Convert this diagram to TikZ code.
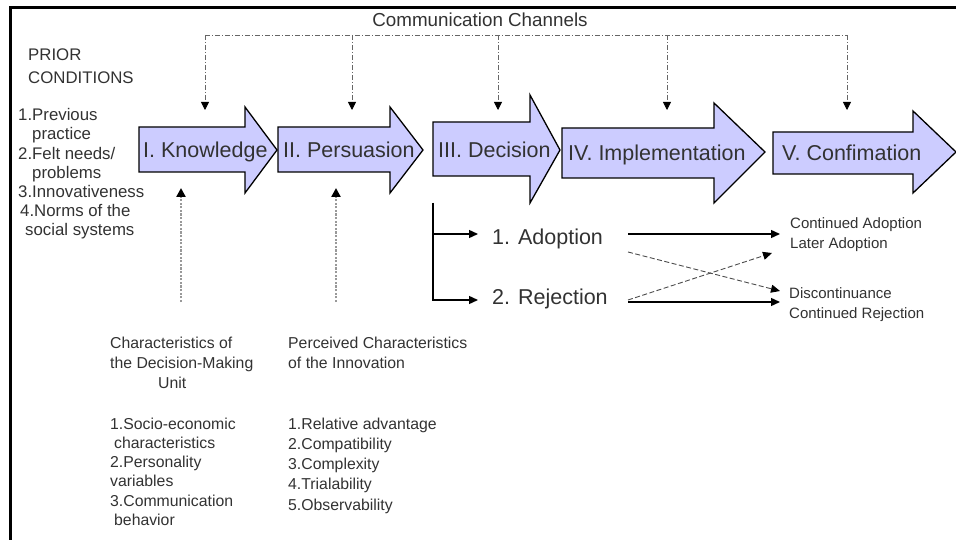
\documentclass[tikz,border=0pt]{standalone}
\usepackage{fontspec}
\setmainfont{Liberation Sans}
\usetikzlibrary{arrows.meta}

\definecolor{stagefill}{RGB}{204,204,255}
\definecolor{inkgray}{RGB}{50,50,50}

\tikzset{
  stage/.style={draw=black, line width=1.3pt, fill=stagefill, line join=miter},
  stagelabel/.style={anchor=base west, inner sep=0pt, text=inkgray, font=\fontsize{21.5}{25}\selectfont},
  sidetext/.style={anchor=base west, inner sep=0pt, align=left, text=inkgray},
  channel/.style={draw=black!60, line width=0.8pt, dash pattern=on 5pt off 2pt on 1pt off 2pt},
  channeltip/.style={-{Triangle[color=black,length=8pt,width=8pt]}},
  influence/.style={draw=black!40, line width=2.8pt, dash pattern=on 2.2pt off 1.4pt, -{Triangle[color=black,length=9pt,width=9pt]}},
  branch/.style={draw=black, line width=1.4pt, -{Triangle[length=9pt,width=8pt]}},
  switch/.style={draw=black!70, line width=0.9pt, dash pattern=on 5pt off 2.5pt, -{Triangle[color=black,length=9pt,width=8pt]}}
}

\begin{document}
\begin{tikzpicture}[x=1pt,y=-1pt]
    \useasboundingbox (0,0) rectangle (956,540);
    \draw[line width=2.6pt, line join=miter] (10.3,540) -- (10.3,7.7) -- (956,7.7);

    % the five stages
    \filldraw[stage] (139,127) -- (245,127) -- (245,107) -- (277,150) -- (245,193) -- (245,172) -- (139,172) -- cycle;
    \filldraw[stage] (278,127) -- (390,127) -- (390,107) -- (423,150) -- (390,193) -- (390,172) -- (278,172) -- cycle;
    \filldraw[stage] (433,122) -- (530,122) -- (530,95) -- (560,150) -- (530,203) -- (530,176) -- (433,176) -- cycle;
    \filldraw[stage] (562,128) -- (714,128) -- (714,103) -- (765,152) -- (714,203) -- (714,178) -- (562,178) -- cycle;
    \filldraw[stage] (773,132) -- (913,132) -- (913,111) -- (956,152) -- (913,193) -- (913,174) -- (773,174) -- cycle;

    \node[stagelabel] (know) at (143,158) {I. Knowledge};
    \node[stagelabel] (pers) at (283,158) {II. Persuasion};
    \node[stagelabel] (deci) at (438,158) {III. Decision};
    \node[stagelabel] (impl) at (568,161) {IV. Implementation};
    \node[stagelabel] (conf) at (782,161) {V. Confimation};

    % communication channels
    \node[anchor=base, inner sep=0pt, text=inkgray, font=\fontsize{18.8}{22}\selectfont] (chan) at (480,27) {Communication Channels};
    \foreach \x [count=\i] in {205,352,498,667,847} {
        \coordinate (ctop\i) at (\x,35);
        \coordinate (cend\i) at (\x,110);
        \draw[channel,channeltip] (ctop\i) -- (cend\i);
    }
    \draw[channel] (ctop1) -- (ctop5);

    % prior conditions (placed by the baseline of the last line)
    \node[sidetext, font=\fontsize{16.8}{23}\selectfont] (prior) at (28,84) {PRIOR\\CONDITIONS};
    \node[sidetext, font=\fontsize{16.8}{19.2}\selectfont] (priorlist) at (18,236)
        {1.Previous\\\hspace*{14pt}practice\\2.Felt needs/\\\hspace*{14pt}problems\\3.Innovativeness\\\hspace*{2pt}4.Norms of the\\\hspace*{7pt}social systems};

    % characteristics feeding the first two stages
    \coordinate (dmufoot) at (181,302);
    \coordinate (dmutip) at (181,188);
    \coordinate (pcifoot) at (336,302);
    \coordinate (pcitip) at (336,188);
    \draw[influence] (dmufoot) -- (dmutip);
    \draw[influence] (pcifoot) -- (pcitip);

    \node[sidetext, font=\fontsize{15.8}{20.3}\selectfont] (dmuhead) at (110,388.6) {Characteristics of\\the Decision-Making\\\hspace*{48pt}Unit};
    \node[sidetext, font=\fontsize{15.8}{19.3}\selectfont] (dmulist) at (110,525.5)
        {1.Socio-economic\\\hspace*{4pt}characteristics\\2.Personality\\variables\\3.Communication\\\hspace*{4pt}behavior};
    \node[sidetext, font=\fontsize{15.8}{20}\selectfont] (pcihead) at (288,368) {Perceived Characteristics\\of the Innovation};
    \node[sidetext, font=\fontsize{15.8}{20.25}\selectfont] (pcilist) at (288,510)
        {1.Relative advantage\\2.Compatibility\\3.Complexity\\4.Trialability\\5.Observability};

    % decision outcomes
    \node[stagelabel] (adopt) at (492,244) {1. Adoption};
    \node[stagelabel] (reject) at (492,304) {2. Rejection};
    \node[sidetext, font=\fontsize{15}{20}\selectfont] (keep) at (790,248) {Continued Adoption\\Later Adoption};
    \node[sidetext, font=\fontsize{15}{20}\selectfont] (drop) at (789,318) {Discontinuance\\Continued Rejection};

    \coordinate (split) at (433,203);
    \coordinate (toadopt) at (478,234);
    \coordinate (toreject) at (478,300);
    \draw[branch] (split) |- (toadopt);
    \draw[branch] (split) |- (toreject);

    \coordinate (adoptout) at (628,234);
    \coordinate (keepin) at (780,234);
    \coordinate (rejectout) at (628,302);
    \coordinate (dropin) at (780,302);
    \draw[branch] (adoptout) -- (keepin);
    \draw[branch] (rejectout) -- (dropin);

    \coordinate (adoptlow) at (628,252);
    \coordinate (dropside) at (780,291);
    \coordinate (rejecthigh) at (628,300);
    \coordinate (keepside) at (772,253);
    \draw[switch] (adoptlow) -- (dropside);
    \draw[switch] (rejecthigh) -- (keepside);
\end{tikzpicture}
\end{document}
